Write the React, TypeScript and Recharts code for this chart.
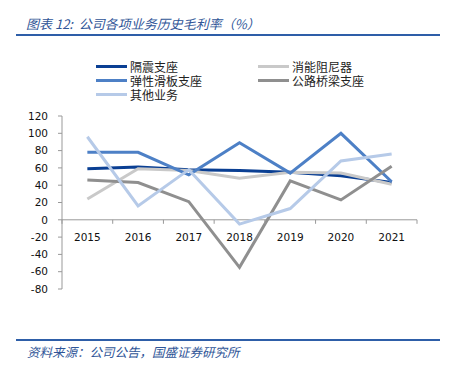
import { LineChart, Line, XAxis, YAxis, ReferenceLine } from "recharts";

const years = ["2015", "2016", "2017", "2018", "2019", "2020", "2021"];
const isolation = [59, 61, 58, 57, 55, 51, 43];
const damper = [24, 59, 57, 48, 55, 54, 41];
const slideBearing = [78, 78, 52, 89, 54, 100, 44];
const bridgeBearing = [46, 43, 21, -55, 45, 23, 62];
const others = [96, 16, 58, -5, 13, 68, 76];
const yTicks = [-80, -60, -40, -20, 0, 20, 40, 60, 80, 100, 120];

const series = [
  { key: "isolation", name: "隔震支座", color: "#0a3f93", values: isolation },
  { key: "damper", name: "消能阻尼器", color: "#c9c9c9", values: damper },
  { key: "slideBearing", name: "弹性滑板支座", color: "#4d80c6", values: slideBearing },
  { key: "bridgeBearing", name: "公路桥梁支座", color: "#8f8f8f", values: bridgeBearing },
  { key: "others", name: "其他业务", color: "#b6cae8", values: others },
];

const data = years.map((year, i) => {
  const row: Record<string, string | number> = { year };
  series.forEach((s) => (row[s.key] = s.values[i]));
  return row;
});

const W = 450;
const H = 366;
const PLOT_LEFT = 62;
const PLOT_RIGHT = 417;
const PLOT_TOP = 116;
const PLOT_BOTTOM = 289;
const Y_MIN = -80;
const Y_MAX = 120;
const zeroShift = ((PLOT_BOTTOM - PLOT_TOP) * (0 - Y_MIN)) / (Y_MAX - Y_MIN);
const band = (PLOT_RIGHT - PLOT_LEFT) / years.length;
const font = '"DejaVu Sans", Verdana, sans-serif';
const cjk = '"Noto Sans CJK SC", sans-serif';

// x axis sits on the zero line, so shift the ticks up from the plot bottom
function YearTick(props: any) {
  const { x, y, payload, index } = props;
  const zy = y - zeroShift;
  return (
    <g>
      <line x1={x - band / 2} x2={x - band / 2} y1={zy} y2={zy + 4} stroke="#999" />
      {index === years.length - 1 && (
        <line x1={x + band / 2} x2={x + band / 2} y1={zy} y2={zy + 4} stroke="#999" />
      )}
      <text x={x} y={zy + 21} textAnchor="middle" fontSize={10.5} fontFamily={font} fill="#111">
        {payload.value}
      </text>
    </g>
  );
}

function LegendBox() {
  return (
    <div style={{ position: "absolute", left: 96, top: 59, display: "grid", gridTemplateColumns: "162px 160px", fontFamily: cjk, fontSize: 12, lineHeight: "14px", color: "#222" }}>
      {series.map((s) => (
        <div key={s.key} style={{ display: "flex", alignItems: "center", height: 14, whiteSpace: "nowrap" }}>
          <span style={{ display: "inline-block", width: 31, height: 3, background: s.color, marginRight: 3 }} />
          <span style={{ lineHeight: "13px" }}>{s.name}</span>
        </div>
      ))}
    </div>
  );
}

export default function App() {
  return (
    <div style={{ position: "absolute", left: 0, top: 0, width: W, height: H, background: "#fff" }}>
      <div style={{ position: "absolute", left: 26, top: 14, fontFamily: cjk, fontStyle: "italic", fontSize: 13, color: "#2f5597", whiteSpace: "nowrap" }}>
        图表 12:&nbsp;&nbsp;公司各项业务历史毛利率（%）
      </div>
      <div style={{ position: "absolute", left: 16, top: 34, width: 424, height: 2, background: "#2e5ea8" }} />
      <div style={{ position: "absolute", left: 0, top: 0 }}>
        <LineChart width={W} height={H} data={data} margin={{ top: PLOT_TOP, right: W - PLOT_RIGHT, left: 0, bottom: H - PLOT_BOTTOM - 1 }}>
          <YAxis
            width={PLOT_LEFT}
            domain={[Y_MIN, Y_MAX]}
            ticks={yTicks}
            interval={0}
            tickSize={4}
            tickMargin={10}
            axisLine={{ stroke: "#999" }}
            tickLine={{ stroke: "#999" }}
            tick={{ fontSize: 10.5, fontFamily: font, fill: "#111" }}
          />
          <XAxis
            dataKey="year"
            height={1}
            padding={{ left: band / 2, right: band / 2 }}
            axisLine={false}
            tickLine={false}
            tickSize={0}
            tickMargin={0}
            interval={0}
            tick={<YearTick />}
          />
          <ReferenceLine y={0} stroke="#999" />
          {series.map((s) => (
            <Line
              key={s.key}
              dataKey={s.key}
              name={s.name}
              stroke={s.color}
              strokeWidth={3}
              dot={false}
              type="linear"
              isAnimationActive={false}
            />
          ))}
        </LineChart>
      </div>
      <LegendBox />
      <div style={{ position: "absolute", left: 16, top: 339, width: 424, height: 2, background: "#2e5ea8" }} />
      <div style={{ position: "absolute", left: 27, top: 342, fontFamily: cjk, fontStyle: "italic", fontSize: 12.5, color: "#2f5597", whiteSpace: "nowrap" }}>
        资料来源：公司公告，国盛证券研究所
      </div>
    </div>
  );
}
